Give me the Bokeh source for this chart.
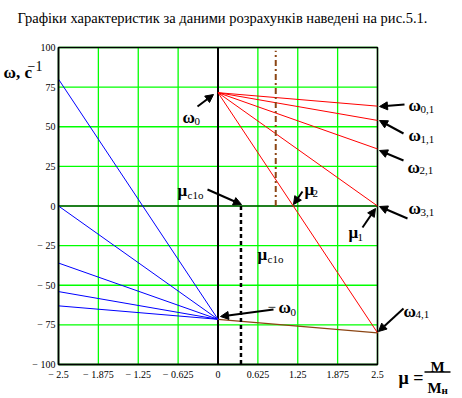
from bokeh.plotting import figure
from bokeh.models import Range1d, FixedTicker, Label, Arrow, NormalHead
from bokeh.embed import file_html
from bokeh.resources import INLINE

# ---- data ----
mu_ticks = [-2.5, -1.875, -1.25, -0.625, 0, 0.625, 1.25, 1.875, 2.5]
mu_tick_labels = ["\u2212 2.5", "\u2212 1.875", "\u2212 1.25", "\u2212 0.625", "0",
                  "0.625", "1.25", "1.875", "2.5"]
w_ticks = [-100, -75, -50, -25, 0, 25, 50, 75, 100]
w_tick_labels = ["\u2212 100", "\u2212 75", "\u2212 50", "\u2212 25", "0", "25", "50", "75", "100"]

omega0 = 71.5                       # ω0, idle speed
mu_end = 2.5                        # μ at right end of characteristics
red_end = [63, 54, 36, 0, -80]      # ω0,1 .. ω4,1 at μ = 2.5
blue_end = [-63, -54, -36, 0, 80]   # mirrored characteristics at μ = -2.5
brown_end = -80                     # braking branch end at μ = 2.5
mu_c1o = 0.36                       # μc1o
mu_dd = 0.905                       # dash-dot marker
mu_dd_top = 98

SERIF = "'Liberation Serif', 'Times New Roman', serif"

W, H = 462, 398
L, R, T, B = 58, 377, 47, 364       # chart box in page px


def X(px):  # page px -> data μ
    return mu_ticks[0] + (px - L) / (R - L) * (mu_ticks[-1] - mu_ticks[0])


def Y(py):  # page px -> data ω
    return w_ticks[-1] - (py - T) / (B - T) * (w_ticks[-1] - w_ticks[0])


p = figure(width=W, height=H, output_backend="svg", toolbar_location=None,
           x_range=Range1d(X(0), X(W)), y_range=Range1d(Y(H), Y(0)),
           min_border=0)
p.background_fill_color = "white"
p.border_fill_color = "white"
p.outline_line_color = None
p.grid.visible = False

for ax, ticks, labels in ((p.xaxis, mu_ticks, mu_tick_labels), (p.yaxis, w_ticks, w_tick_labels)):
    ax.ticker = FixedTicker(ticks=ticks)
    ax.major_label_overrides = {t: l for t, l in zip(ticks, labels)}
    ax.major_tick_in = 0
    ax.major_tick_out = 0
    ax.minor_tick_line_color = None
    ax.axis_line_color = "black"
    ax.axis_line_width = 1.5
    ax.major_label_text_font = SERIF
    ax.major_label_text_font_size = "10px"
    ax.major_label_text_color = "black"
p.xaxis.fixed_location = w_ticks[0]
p.xaxis.bounds = (mu_ticks[0], mu_ticks[-1])
p.yaxis.fixed_location = mu_ticks[0]
p.yaxis.bounds = (w_ticks[0], w_ticks[-1])
p.yaxis.major_label_standoff = 3
p.xaxis.major_label_standoff = 4

# green grid
p.segment(x0=mu_ticks, y0=[w_ticks[0]] * len(mu_ticks), x1=mu_ticks, y1=[w_ticks[-1]] * len(mu_ticks),
          line_color="#00ff00", line_width=1.3)
p.segment(x0=[mu_ticks[0]] * len(w_ticks), y0=w_ticks, x1=[mu_ticks[-1]] * len(w_ticks), y1=w_ticks,
          line_color="#00ff00", line_width=1.3)
# axes through zero
p.segment(x0=[0], y0=[w_ticks[0]], x1=[0], y1=[w_ticks[-1]], line_color="black", line_width=2)
p.segment(x0=[mu_ticks[0]], y0=[0], x1=[mu_ticks[-1]], y1=[0], line_color="black", line_width=1.2)
# box
p.quad(left=[mu_ticks[0]], right=[mu_ticks[-1]], bottom=[w_ticks[0]], top=[w_ticks[-1]],
       fill_color=None, line_color="black", line_width=1.5)

# motoring characteristics (red)
p.segment(x0=[0] * len(red_end), y0=[omega0] * len(red_end),
          x1=[mu_end] * len(red_end), y1=red_end, line_color="#ff0000", line_width=1)
# mirrored characteristics (blue)
p.segment(x0=[0] * len(blue_end), y0=[-omega0] * len(blue_end),
          x1=[-mu_end] * len(blue_end), y1=blue_end, line_color="#0000ff", line_width=1)
# brown branch
p.segment(x0=[0], y0=[-omega0], x1=[mu_end], y1=[brown_end], line_color="#8b4513", line_width=1.2)
# dash-dot marker
p.segment(x0=[mu_dd], y0=[0], x1=[mu_dd], y1=[mu_dd_top], line_color="#8b4513",
          line_width=2, line_dash="6 3 2 3")
# black dashed μc1o
p.segment(x0=[mu_c1o], y0=[0], x1=[mu_c1o], y1=[w_ticks[0]], line_color="black",
          line_width=2.5, line_dash="4 3")


def lab(text, px, py, size, bold=False, align="left", baseline="alphabetic"):
    p.add_layout(Label(x=X(px), y=Y(py), text=text, text_font=SERIF,
                       text_font_size=f"{size}px", text_font_style="bold" if bold else "normal",
                       text_align=align, text_baseline=baseline, text_color="black"))


def arr(x0, y0, x1, y1):
    p.add_layout(Arrow(x_start=X(x0), y_start=Y(y0), x_end=X(x1), y_end=Y(y1),
                       line_color="black", line_width=2,
                       end=NormalHead(size=8, fill_color="black", line_color="black")))


# title
lab("Графіки характеристик за даними розрахунків наведені на рис.5.1.", 17, 17, 14.5)

# y label
lab("ω, c", 3, 72, 17, bold=True)
lab("\u22121", 27, 65, 14)

# x label
lab("μ =", 398, 377, 18, bold=True)
lab("M", 437, 366, 15, bold=True, align="center")
lab("M", 434, 387, 15, bold=True, align="center")
lab("н", 441, 389, 11, bold=True)
p.add_layout(Arrow(x_start=X(424), y_start=Y(371.5), x_end=X(450), y_end=Y(371.5),
                   line_color="black", line_width=1.5, end=None))

# labels with subscripts
lab("ω", 182, 117, 17, bold=True); lab("0", 194, 121, 11)
lab("ω", 408, 105, 17, bold=True); lab("0,1", 420, 109, 11)
lab("ω", 408, 135, 17, bold=True); lab("1,1", 420, 139, 11)
lab("ω", 407, 167, 17, bold=True); lab("2,1", 419, 170, 11)
lab("ω", 408, 208, 17, bold=True); lab("3,1", 420, 212, 11)
lab("ω", 403, 311, 17, bold=True); lab("4,1", 415, 314, 11)
lab("μ", 348, 232, 17, bold=True); lab("1", 357, 237, 11)
lab("μ", 177, 190, 17, bold=True); lab("c1o", 187, 194, 11)
lab("μ", 304, 189, 17, bold=True); lab("2", 312, 193, 11)
lab("μ", 257, 254, 17, bold=True); lab("c1o", 267, 258, 11)
lab("\u2212", 267, 306, 15); lab("ω", 278, 307, 17, bold=True); lab("0", 290, 312, 11)

# arrows
arr(197, 106, 213, 94)
arr(404, 104, 379, 106)
arr(403, 133, 379, 120)
arr(403, 160, 379, 150)
arr(407, 218, 379, 206)
arr(362, 227, 375, 208)
arr(403, 308, 378, 331)
arr(207, 189, 241, 204)
arr(302, 191, 293, 204)
arr(273, 309, 220, 316)

open("out.html", "w").write(file_html(p, INLINE))
